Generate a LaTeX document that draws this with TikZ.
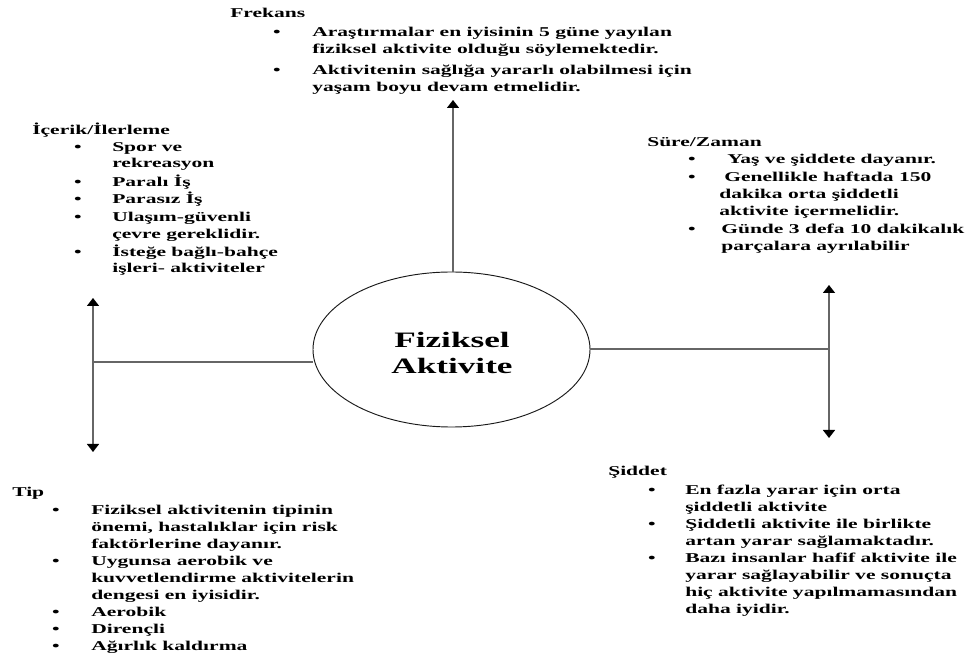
\documentclass[tikz,border=0pt]{standalone}
\usepackage{fontspec}
\setmainfont[FakeStretch=1.6]{Liberation Serif}
\usetikzlibrary{arrows.meta,shapes.geometric}
\begin{document}
\begin{tikzpicture}[x=0.75pt,y=-0.75pt,
  txt/.style={anchor=base west,inner sep=0pt,font=\fontsize{10.1pt}{12pt}\selectfont\bfseries},
  bul/.style={anchor=base,inner sep=0pt,font=\fontsize{10.1pt}{12pt}\selectfont\bfseries},
  big/.style={align=center,inner sep=0pt,font=\fontsize{16.5pt}{19.5pt}\selectfont\bfseries},
  oval/.style={draw=black!90,line width=0.7pt,ellipse,inner sep=0pt},
  conn/.style={line width=1.1pt,draw=black!60},
  hconn/.style={line width=0.9pt,draw=black!60},
  tipend/.style={-{Triangle[length=6pt,width=9pt,color=black]}},
  tipboth/.style={{Triangle[length=6pt,width=9pt,color=black]}-{Triangle[length=6pt,width=9pt,color=black]}}]
\useasboundingbox (0,0) rectangle (965,655);

% centre
\node[oval,minimum width=207.75pt,minimum height=116.25pt] (c) at (451.5,349.5) {};
\node[big] (ct) at (452,352.5) {Fiziksel\\Aktivite};

% connectors
\coordinate (tf) at (453,100);
\draw[conn,tipend] (c.north -| tf) -- (tf);
\coordinate (lt) at (93,298);
\coordinate (lb) at (93,452);
\coordinate (lm) at (93,362);
\draw[conn,tipboth] (lt) -- (lb);
\draw[hconn] (lm) -- (lm -| c.west);
\coordinate (rt) at (829,285);
\coordinate (rb) at (829,438);
\coordinate (rm) at (829,349);
\draw[conn,tipboth] (rt) -- (rb);
\draw[hconn] (rm) -- (rm -| c.east);

% Frekans
\node[txt] (f0) at (230,18) {Frekans};
\node[bul] (fb1) at (277,37) {•};
\node[txt] (f1) at (312,37) {Araştırmalar en iyisinin 5 güne yayılan};
\node[txt] (f2) at (312,54) {fiziksel aktivite olduğu söylemektedir.};
\node[bul] (fb2) at (277,75) {•};
\node[txt] (f3) at (312,75) {Aktivitenin sağlığa yararlı olabilmesi için};
\node[txt] (f4) at (312,92) {yaşam boyu devam etmelidir.};

% İçerik/İlerleme
\node[txt] (i0) at (32,135) {İçerik/İlerleme};
\node[bul] (ib1) at (78,152) {•};
\node[txt] (i1) at (112,152) {Spor ve};
\node[txt] (i2) at (112,168) {rekreasyon};
\node[bul] (ib2) at (78,187) {•};
\node[txt] (i3) at (112,187) {Paralı İş};
\node[bul] (ib3) at (78,204) {•};
\node[txt] (i4) at (112,204) {Parasız İş};
\node[bul] (ib4) at (78,222) {•};
\node[txt] (i5) at (112,222) {Ulaşım-güvenli};
\node[txt] (i6) at (112,239) {çevre gereklidir.};
\node[bul] (ib5) at (78,257) {•};
\node[txt] (i7) at (112,257) {İsteğe bağlı-bahçe};
\node[txt] (i8) at (112,273) {işleri- aktiviteler};

% Süre/Zaman
\node[txt] (s0) at (647,147) {Süre/Zaman};
\node[bul] (sb1) at (692,164) {•};
\node[txt] (s1) at (727,164) {Yaş ve şiddete dayanır.};
\node[bul] (sb2) at (692,182) {•};
\node[txt] (s2) at (724,182) {Genellikle haftada 150};
\node[txt] (s3) at (719,199) {dakika orta şiddetli};
\node[txt] (s4) at (719,216) {aktivite içermelidir.};
\node[bul] (sb3) at (692,234) {•};
\node[txt] (s5) at (721,234) {Günde 3 defa 10 dakikalık};
\node[txt] (s6) at (721,251) {parçalara ayrılabilir};

% Tip
\node[txt] (t0) at (12,497) {Tip};
\node[bul] (tb1) at (56,515) {•};
\node[txt] (t1) at (91,515) {Fiziksel aktivitenin tipinin};
\node[txt] (t2) at (91,532) {önemi, hastalıklar için risk};
\node[txt] (t3) at (91,549) {faktörlerine dayanır.};
\node[bul] (tb2) at (56,566) {•};
\node[txt] (t4) at (91,566) {Uygunsa aerobik ve};
\node[txt] (t5) at (91,583) {kuvvetlendirme aktivitelerin};
\node[txt] (t6) at (91,600) {dengesi en iyisidir.};
\node[bul] (tb3) at (56,617) {•};
\node[txt] (t7) at (91,617) {Aerobik};
\node[bul] (tb4) at (56,634) {•};
\node[txt] (t8) at (91,634) {Dirençli};
\node[bul] (tb5) at (56,651) {•};
\node[txt] (t9) at (91,651) {Ağırlık kaldırma};

% Şiddet
\node[txt] (d0) at (608,476) {Şiddet};
\node[bul] (db1) at (652,495) {•};
\node[txt] (d1) at (685,495) {En fazla yarar için orta};
\node[txt] (d2) at (685,512) {şiddetli aktivite};
\node[bul] (db2) at (652,529) {•};
\node[txt] (d3) at (685,529) {Şiddetli aktivite ile birlikte};
\node[txt] (d4) at (685,546) {artan yarar sağlamaktadır.};
\node[bul] (db3) at (652,563) {•};
\node[txt] (d5) at (685,563) {Bazı insanlar hafif aktivite ile};
\node[txt] (d6) at (685,580) {yarar sağlayabilir ve sonuçta};
\node[txt] (d7) at (685,597) {hiç aktivite yapılmamasından};
\node[txt] (d8) at (685,614) {daha iyidir.};
\end{tikzpicture}
\end{document}
